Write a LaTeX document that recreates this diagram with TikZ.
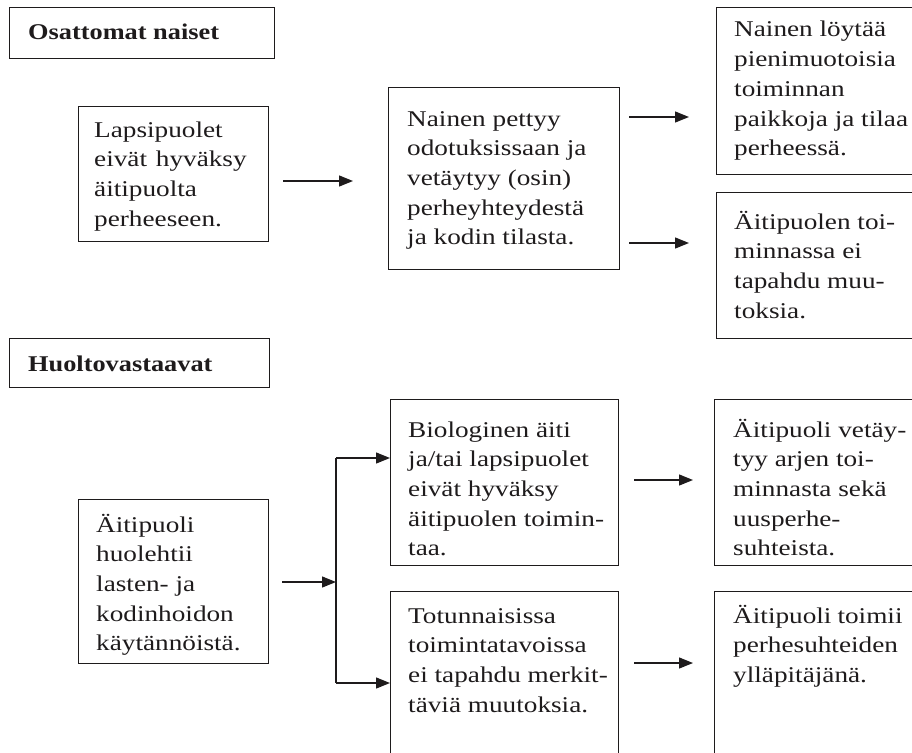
\documentclass[tikz,border=0pt]{standalone}
\usepackage{fontspec}
\setmainfont{Liberation Serif}
\usepackage{graphicx}
\usetikzlibrary{arrows.meta}
\definecolor{ink}{RGB}{30,27,28}
\tikzset{
  box/.style={draw=ink, line width=1.3pt, rectangle, inner sep=0pt, anchor=north west},
  txt/.style={inner sep=0pt, anchor=base west, text=ink, font=\fontsize{22.5}{29.7}\selectfont},
  hd/.style={txt, font=\fontsize{22.5}{29.7}\selectfont\bfseries},
  arr/.style={draw=ink, line width=1.3pt, -{Triangle[length=14pt,width=11pt]}},
  ln/.style={draw=ink, line width=1.3pt},
}
\newcommand{\tb}[1]{\scalebox{1.21}[1]{\begin{tabular}[t]{@{}l@{}}#1\end{tabular}}}
\newcommand{\hb}[1]{\scalebox{1.17}[1]{#1}}
\begin{document}
\begin{tikzpicture}[x=1pt,y=-1pt]
\useasboundingbox (0,0) rectangle (912,752);
\clip (0,0) rectangle (912,752);
% boxes
\node[box, minimum width=265pt, minimum height=51pt] (h1) at (9,7) {};
\node[box, minimum width=190pt, minimum height=135pt] (b2) at (78,106) {};
\node[box, minimum width=231pt, minimum height=182pt] (b3) at (388,87) {};
\node[box, minimum width=220pt, minimum height=167pt] (b4) at (716,7) {};
\node[box, minimum width=220pt, minimum height=146pt] (b5) at (716,192) {};
\node[box, minimum width=260pt, minimum height=49pt] (h2) at (9,338) {};
\node[box, minimum width=190pt, minimum height=164pt] (b6) at (78,499) {};
\node[box, minimum width=228pt, minimum height=166pt] (b7) at (390,399) {};
\node[box, minimum width=220pt, minimum height=166pt] (b8) at (714,399) {};
\node[box, minimum width=228pt, minimum height=185pt] (b9) at (390,591) {};
\node[box, minimum width=220pt, minimum height=185pt] (b10) at (714,591) {};
% texts
\node[hd] (t1) at (28,40) {\hb{Osattomat naiset}};
\node[txt] (t2) at (94,137) {\tb{Lapsipuolet\\ \makebox[126pt][s]{eivät\hfill hyväksy}\\ äitipuolta\\ perheeseen.}};
\node[txt] (t3) at (407,126) {\tb{Nainen pettyy\\ odotuksissaan ja\\ vetäytyy (osin)\\ perheyhteydestä\\ ja kodin tilasta.}};
\node[txt] (t4) at (734,37) {\tb{Nainen löytää\\ pienimuotoisia\\ toiminnan\\ paikkoja ja tilaa\\ perheessä.}};
\node[txt] (t5) at (734,229) {\tb{Äitipuolen toi-\\ minnassa ei\\ tapahdu muu-\\ toksia.}};
\node[hd] (t6) at (28,371) {\hb{Huoltovastaavat}};
\node[txt] (t7) at (96,532) {\tb{Äitipuoli\\ huolehtii\\ lasten- ja\\ kodinhoidon\\ käytännöistä.}};
\node[txt] (t8) at (408,437) {\tb{Biologinen äiti\\ ja/tai lapsipuolet\\ eivät hyväksy\\ äitipuolen toimin-\\ taa.}};
\node[txt] (t9) at (733,437) {\tb{Äitipuoli vetäy-\\ tyy arjen toi-\\ minnasta sekä\\ uusperhe-\\ suhteista.}};
\node[txt] (t10) at (408,623) {\tb{Totunnaisissa\\ toimintatavoissa\\ ei tapahdu merkit-\\ täviä muutoksia.}};
\node[txt] (t11) at (733,623) {\tb{\makebox[140pt][s]{Äitipuoli\hfill toimii}\\ perhesuhteiden\\ ylläpitäjänä.}};
% arrows
\coordinate (a1s) at (283,181); \coordinate (a1e) at (353,181);
\coordinate (a2s) at (629,117); \coordinate (a2e) at (689,117);
\coordinate (a3s) at (629,243); \coordinate (a3e) at (689,243);
\coordinate (a4s) at (282,582); \coordinate (jn) at (336,582);
\coordinate (j1) at (336,458); \coordinate (j2) at (336,683);
\coordinate (a5s) at (634,480); \coordinate (a5e) at (693,480);
\coordinate (a6s) at (634,663); \coordinate (a6e) at (693,663);
\draw[arr] (a1s) -- (a1e);
\draw[arr] (a2s) -- (a2e);
\draw[arr] (a3s) -- (a3e);
\draw[arr] (a4s) -- (jn);
\draw[ln] (j1) -- (j2);
\draw[arr] (j1) -- (j1 -| b7.west);
\draw[arr] (j2) -- (j2 -| b9.west);
\draw[arr] (a5s) -- (a5e);
\draw[arr] (a6s) -- (a6e);
\end{tikzpicture}
\end{document}
